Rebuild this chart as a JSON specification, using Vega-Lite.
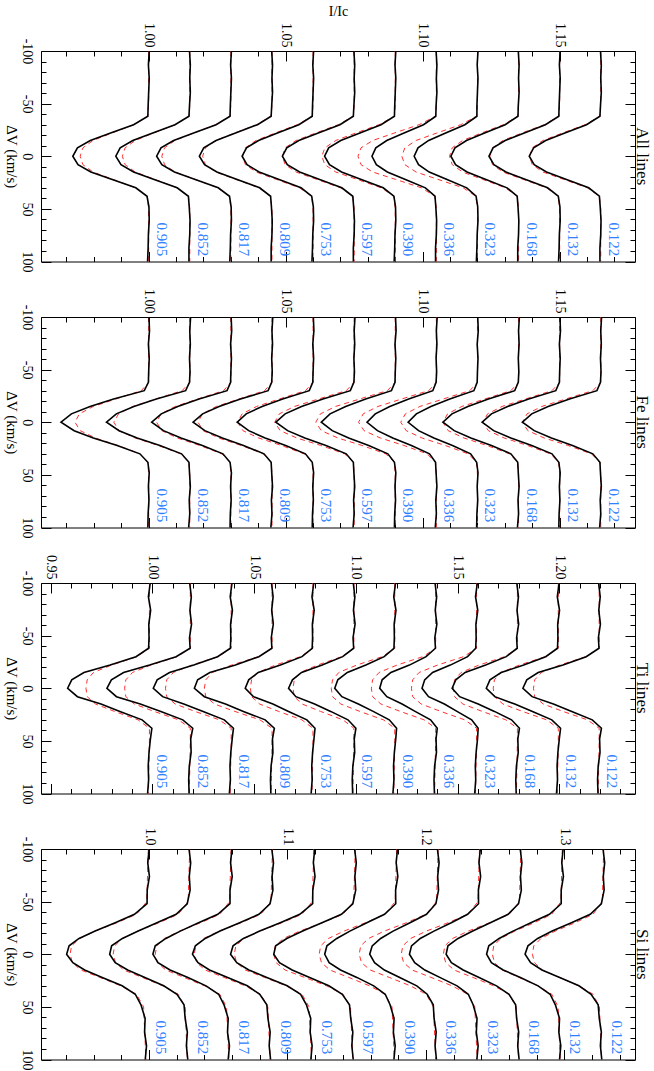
{
"$schema": "https://vega.github.io/schema/vega-lite/v6.json",
"background": "white",
"padding": {"left": 2, "top": 4, "right": 0, "bottom": 0},
"bounds": "flush",
"spacing": 55,
"config": {
  "view": {"stroke": "black", "strokeWidth": 1},
  "axis": {"domain": false, "grid": false, "tickColor": "black", "tickWidth": 1, "labelColor": "black", "labelFont": "Liberation Serif", "labelFontSize": 14, "titleFont": "Liberation Serif", "titleFontSize": 15, "titleFontWeight": "normal", "titleColor": "black", "labelOverlap": false, "labelFlush": false}
},
"datasets": {
"lab": [
{"mu":"0.905","cA":1.000,"cT":0.9985,"cS":0.9995},
{"mu":"0.852","cA":1.015,"cT":1.0186,"cS":1.0294},
{"mu":"0.817","cA":1.030,"cT":1.0387,"cS":1.0593},
{"mu":"0.809","cA":1.045,"cT":1.0588,"cS":1.0892},
{"mu":"0.753","cA":1.060,"cT":1.0789,"cS":1.1191},
{"mu":"0.597","cA":1.075,"cT":1.0990,"cS":1.1490},
{"mu":"0.390","cA":1.090,"cT":1.1191,"cS":1.1789},
{"mu":"0.336","cA":1.105,"cT":1.1392,"cS":1.2088},
{"mu":"0.323","cA":1.120,"cT":1.1593,"cS":1.2387},
{"mu":"0.168","cA":1.135,"cT":1.1794,"cS":1.2686},
{"mu":"0.132","cA":1.150,"cT":1.1995,"cS":1.2985},
{"mu":"0.122","cA":1.165,"cT":1.2196,"cS":1.3284}
],
"Ao": [
{"v":-100,"k0":1.0002,"k1":1.0149,"k2":1.0302,"k3":1.0449,"k4":1.0602,"k5":1.0749,"k6":1.0902,"k7":1.1049,"k8":1.1202,"k9":1.1349,"k10":1.1502,"k11":1.1649},
{"v":-87,"k0":0.9999,"k1":1.0152,"k2":1.0299,"k3":1.0452,"k4":1.0599,"k5":1.0752,"k6":1.0899,"k7":1.1052,"k8":1.1199,"k9":1.1352,"k10":1.1499,"k11":1.1652},
{"v":-74,"k0":1.0002,"k1":1.0150,"k2":1.0302,"k3":1.0450,"k4":1.0602,"k5":1.0750,"k6":1.0902,"k7":1.1050,"k8":1.1202,"k9":1.1350,"k10":1.1502,"k11":1.1650},
{"v":-61,"k0":1.0000,"k1":1.0152,"k2":1.0300,"k3":1.0452,"k4":1.0600,"k5":1.0752,"k6":1.0900,"k7":1.1052,"k8":1.1200,"k9":1.1352,"k10":1.1500,"k11":1.1652},
{"v":-48,"k0":0.9998,"k1":1.0149,"k2":1.0298,"k3":1.0449,"k4":1.0598,"k5":1.0749,"k6":1.0898,"k7":1.1049,"k8":1.1198,"k9":1.1349,"k10":1.1498,"k11":1.1649},
{"v":-38,"k0":0.9997,"k1":1.0147,"k2":1.0297,"k3":1.0447,"k4":1.0597,"k5":1.0747,"k6":1.0897,"k7":1.1048,"k8":1.1198,"k9":1.1348,"k10":1.1497,"k11":1.1647},
{"v":-30,"k0":0.9945,"k1":1.0096,"k2":1.0246,"k3":1.0397,"k4":1.0548,"k5":1.0698,"k6":1.0848,"k7":1.1003,"k8":1.1154,"k9":1.1301,"k10":1.1448,"k11":1.1598},
{"v":-22,"k0":0.9861,"k1":1.0015,"k2":1.0164,"k3":1.0317,"k4":1.0470,"k5":1.0619,"k6":1.0771,"k7":1.0932,"k8":1.1084,"k9":1.1226,"k10":1.1371,"k11":1.1519},
{"v":-15,"k0":0.9787,"k1":0.9942,"k2":1.0091,"k3":1.0246,"k4":1.0401,"k5":1.0548,"k6":1.0701,"k7":1.0869,"k8":1.1022,"k9":1.1160,"k10":1.1301,"k11":1.1449},
{"v":-8,"k0":0.9740,"k1":0.9896,"k2":1.0045,"k3":1.0201,"k4":1.0357,"k5":1.0504,"k6":1.0657,"k7":1.0829,"k8":1.0983,"k9":1.1118,"k10":1.1257,"k11":1.1405},
{"v":0,"k0":0.9723,"k1":0.9880,"k2":1.0029,"k3":1.0185,"k4":1.0341,"k5":1.0488,"k6":1.0642,"k7":1.0815,"k8":1.0969,"k9":1.1103,"k10":1.1242,"k11":1.1389},
{"v":8,"k0":0.9742,"k1":0.9899,"k2":1.0048,"k3":1.0204,"k4":1.0359,"k5":1.0506,"k6":1.0660,"k7":1.0831,"k8":1.0985,"k9":1.1120,"k10":1.1260,"k11":1.1407},
{"v":15,"k0":0.9789,"k1":0.9945,"k2":1.0094,"k3":1.0249,"k4":1.0403,"k5":1.0551,"k6":1.0704,"k7":1.0871,"k8":1.1024,"k9":1.1162,"k10":1.1304,"k11":1.1452},
{"v":22,"k0":0.9867,"k1":1.0020,"k2":1.0170,"k3":1.0323,"k4":1.0476,"k5":1.0624,"k6":1.0776,"k7":1.0937,"k8":1.1089,"k9":1.1231,"k10":1.1376,"k11":1.1525},
{"v":30,"k0":0.9953,"k1":1.0104,"k2":1.0254,"k3":1.0405,"k4":1.0556,"k5":1.0705,"k6":1.0856,"k7":1.1010,"k8":1.1161,"k9":1.1308,"k10":1.1456,"k11":1.1606},
{"v":38,"k0":0.9994,"k1":1.0145,"k2":1.0295,"k3":1.0445,"k4":1.0595,"k5":1.0745,"k6":1.0895,"k7":1.1045,"k8":1.1195,"k9":1.1345,"k10":1.1495,"k11":1.1645},
{"v":48,"k0":1.0001,"k1":1.0148,"k2":1.0301,"k3":1.0448,"k4":1.0601,"k5":1.0748,"k6":1.0901,"k7":1.1048,"k8":1.1201,"k9":1.1348,"k10":1.1501,"k11":1.1648},
{"v":61,"k0":1.0002,"k1":1.0151,"k2":1.0302,"k3":1.0451,"k4":1.0602,"k5":1.0751,"k6":1.0902,"k7":1.1051,"k8":1.1202,"k9":1.1351,"k10":1.1502,"k11":1.1651},
{"v":74,"k0":0.9999,"k1":1.0150,"k2":1.0299,"k3":1.0450,"k4":1.0599,"k5":1.0750,"k6":1.0899,"k7":1.1050,"k8":1.1199,"k9":1.1350,"k10":1.1499,"k11":1.1650},
{"v":87,"k0":0.9998,"k1":1.0147,"k2":1.0298,"k3":1.0447,"k4":1.0598,"k5":1.0747,"k6":1.0898,"k7":1.1047,"k8":1.1198,"k9":1.1347,"k10":1.1498,"k11":1.1647},
{"v":100,"k0":0.9996,"k1":1.0147,"k2":1.0296,"k3":1.0447,"k4":1.0596,"k5":1.0747,"k6":1.0896,"k7":1.1047,"k8":1.1196,"k9":1.1347,"k10":1.1496,"k11":1.1647}
],
"Am": [
{"v":-100,"k0":1.000,"k1":1.015,"k2":1.030,"k3":1.045,"k4":1.060,"k5":1.075,"k6":1.090,"k7":1.105,"k8":1.120,"k9":1.135,"k10":1.150,"k11":1.165},
{"v":-50,"k0":1.000,"k1":1.015,"k2":1.030,"k3":1.045,"k4":1.060,"k5":1.075,"k6":1.090,"k7":1.105,"k8":1.120,"k9":1.135,"k10":1.150,"k11":1.165},
{"v":-38,"k0":0.9997,"k1":1.0148,"k2":1.0297,"k3":1.0447,"k4":1.0597,"k5":1.0747,"k6":1.0897,"k7":1.1047,"k8":1.1197,"k9":1.1347,"k10":1.1497,"k11":1.1647},
{"v":-30,"k0":0.9945,"k1":1.0096,"k2":1.0245,"k3":1.0394,"k4":1.0543,"k5":1.0692,"k6":1.0841,"k7":1.0987,"k8":1.1139,"k9":1.1295,"k10":1.1444,"k11":1.1593},
{"v":-22,"k0":0.9865,"k1":1.0017,"k2":1.0164,"k3":1.0313,"k4":1.0461,"k5":1.0609,"k6":1.0755,"k7":1.0896,"k8":1.1051,"k9":1.1214,"k10":1.1362,"k11":1.1510},
{"v":-15,"k0":0.9797,"k1":0.9951,"k2":1.0096,"k3":1.0245,"k4":1.0392,"k5":1.0538,"k6":1.0683,"k7":1.0818,"k8":1.0976,"k9":1.1146,"k10":1.1293,"k11":1.1439},
{"v":-8,"k0":0.9760,"k1":0.9914,"k2":1.0058,"k3":1.0207,"k4":1.0353,"k5":1.0498,"k6":1.0643,"k7":1.0775,"k8":1.0935,"k9":1.1108,"k10":1.1255,"k11":1.1400},
{"v":0,"k0":0.9750,"k1":0.9904,"k2":1.0048,"k3":1.0197,"k4":1.0343,"k5":1.0488,"k6":1.0632,"k7":1.0764,"k8":1.0924,"k9":1.1098,"k10":1.1245,"k11":1.1390},
{"v":8,"k0":0.9760,"k1":0.9914,"k2":1.0058,"k3":1.0207,"k4":1.0353,"k5":1.0498,"k6":1.0643,"k7":1.0775,"k8":1.0935,"k9":1.1108,"k10":1.1255,"k11":1.1400},
{"v":15,"k0":0.9797,"k1":0.9951,"k2":1.0096,"k3":1.0245,"k4":1.0392,"k5":1.0538,"k6":1.0683,"k7":1.0818,"k8":1.0976,"k9":1.1146,"k10":1.1293,"k11":1.1439},
{"v":22,"k0":0.9870,"k1":1.0022,"k2":1.0169,"k3":1.0318,"k4":1.0466,"k5":1.0614,"k6":1.0761,"k7":1.0901,"k8":1.1056,"k9":1.1219,"k10":1.1367,"k11":1.1515},
{"v":30,"k0":0.9952,"k1":1.0103,"k2":1.0252,"k3":1.0402,"k4":1.0551,"k5":1.0700,"k6":1.0849,"k7":1.0996,"k8":1.1148,"k9":1.1302,"k10":1.1452,"k11":1.1601},
{"v":38,"k0":0.9995,"k1":1.0145,"k2":1.0295,"k3":1.0445,"k4":1.0595,"k5":1.0745,"k6":1.0895,"k7":1.1044,"k8":1.1194,"k9":1.1345,"k10":1.1495,"k11":1.1645},
{"v":50,"k0":1.000,"k1":1.015,"k2":1.030,"k3":1.045,"k4":1.060,"k5":1.075,"k6":1.090,"k7":1.105,"k8":1.120,"k9":1.135,"k10":1.150,"k11":1.165},
{"v":100,"k0":1.000,"k1":1.015,"k2":1.030,"k3":1.045,"k4":1.060,"k5":1.075,"k6":1.090,"k7":1.105,"k8":1.120,"k9":1.135,"k10":1.150,"k11":1.165}
],
"Fo": [
{"v":-100,"k0":1.0001,"k1":1.0153,"k2":1.0301,"k3":1.0453,"k4":1.0601,"k5":1.0753,"k6":1.0901,"k7":1.1053,"k8":1.1201,"k9":1.1353,"k10":1.1501,"k11":1.1653},
{"v":-87,"k0":1.0003,"k1":1.0150,"k2":1.0303,"k3":1.0450,"k4":1.0603,"k5":1.0750,"k6":1.0903,"k7":1.1050,"k8":1.1203,"k9":1.1350,"k10":1.1503,"k11":1.1650},
{"v":-74,"k0":0.9999,"k1":1.0152,"k2":1.0299,"k3":1.0452,"k4":1.0599,"k5":1.0752,"k6":1.0899,"k7":1.1052,"k8":1.1199,"k9":1.1352,"k10":1.1499,"k11":1.1652},
{"v":-61,"k0":1.0002,"k1":1.0149,"k2":1.0302,"k3":1.0449,"k4":1.0602,"k5":1.0749,"k6":1.0902,"k7":1.1049,"k8":1.1202,"k9":1.1349,"k10":1.1502,"k11":1.1649},
{"v":-48,"k0":1.0000,"k1":1.0151,"k2":1.0300,"k3":1.0451,"k4":1.0600,"k5":1.0751,"k6":1.0900,"k7":1.1051,"k8":1.1200,"k9":1.1351,"k10":1.1500,"k11":1.1651},
{"v":-38,"k0":0.9999,"k1":1.0149,"k2":1.0299,"k3":1.0449,"k4":1.0599,"k5":1.0749,"k6":1.0899,"k7":1.1049,"k8":1.1199,"k9":1.1349,"k10":1.1499,"k11":1.1649},
{"v":-30,"k0":0.9984,"k1":1.0135,"k2":1.0286,"k3":1.0436,"k4":1.0586,"k5":1.0736,"k6":1.0886,"k7":1.1037,"k8":1.1187,"k9":1.1336,"k10":1.1486,"k11":1.1636},
{"v":-22,"k0":0.9872,"k1":1.0028,"k2":1.0184,"k3":1.0335,"k4":1.0489,"k5":1.0636,"k6":1.0792,"k7":1.0949,"k8":1.1099,"k9":1.1240,"k10":1.1387,"k11":1.1536},
{"v":-15,"k0":0.9786,"k1":0.9946,"k2":1.0106,"k3":1.0257,"k4":1.0414,"k5":1.0558,"k6":1.0719,"k7":1.0880,"k8":1.1030,"k9":1.1165,"k10":1.1310,"k11":1.1458},
{"v":-8,"k0":0.9718,"k1":0.9882,"k2":1.0046,"k3":1.0197,"k4":1.0356,"k5":1.0498,"k6":1.0662,"k7":1.0827,"k8":1.0977,"k9":1.1107,"k10":1.1251,"k11":1.1398},
{"v":0,"k0":0.9680,"k1":0.9846,"k2":1.0011,"k3":1.0162,"k4":1.0323,"k5":1.0464,"k6":1.0630,"k7":1.0797,"k8":1.0947,"k9":1.1074,"k10":1.1217,"k11":1.1364},
{"v":8,"k0":0.9728,"k1":0.9892,"k2":1.0054,"k3":1.0205,"k4":1.0365,"k5":1.0507,"k6":1.0670,"k7":1.0835,"k8":1.0985,"k9":1.1115,"k10":1.1259,"k11":1.1407},
{"v":15,"k0":0.9798,"k1":0.9958,"k2":1.0118,"k3":1.0269,"k4":1.0425,"k5":1.0570,"k6":1.0730,"k7":1.0891,"k8":1.1041,"k9":1.1176,"k10":1.1322,"k11":1.1470},
{"v":22,"k0":0.9885,"k1":1.0041,"k2":1.0196,"k3":1.0346,"k4":1.0500,"k5":1.0647,"k6":1.0803,"k7":1.0959,"k8":1.1109,"k9":1.1251,"k10":1.1398,"k11":1.1547},
{"v":30,"k0":0.9968,"k1":1.0120,"k2":1.0271,"k3":1.0421,"k4":1.0572,"k5":1.0721,"k6":1.0873,"k7":1.1025,"k8":1.1175,"k9":1.1322,"k10":1.1472,"k11":1.1621},
{"v":38,"k0":0.9997,"k1":1.0147,"k2":1.0297,"k3":1.0447,"k4":1.0597,"k5":1.0747,"k6":1.0897,"k7":1.1047,"k8":1.1197,"k9":1.1347,"k10":1.1497,"k11":1.1647},
{"v":48,"k0":1.0002,"k1":1.0149,"k2":1.0302,"k3":1.0449,"k4":1.0602,"k5":1.0749,"k6":1.0902,"k7":1.1049,"k8":1.1202,"k9":1.1349,"k10":1.1502,"k11":1.1649},
{"v":61,"k0":0.9999,"k1":1.0152,"k2":1.0299,"k3":1.0452,"k4":1.0599,"k5":1.0752,"k6":1.0899,"k7":1.1052,"k8":1.1199,"k9":1.1352,"k10":1.1499,"k11":1.1652},
{"v":74,"k0":1.0001,"k1":1.0148,"k2":1.0301,"k3":1.0448,"k4":1.0601,"k5":1.0748,"k6":1.0901,"k7":1.1048,"k8":1.1201,"k9":1.1348,"k10":1.1501,"k11":1.1648},
{"v":87,"k0":0.9998,"k1":1.0150,"k2":1.0298,"k3":1.0450,"k4":1.0598,"k5":1.0750,"k6":1.0898,"k7":1.1050,"k8":1.1198,"k9":1.1350,"k10":1.1498,"k11":1.1650},
{"v":100,"k0":0.9997,"k1":1.0146,"k2":1.0297,"k3":1.0446,"k4":1.0597,"k5":1.0746,"k6":1.0897,"k7":1.1046,"k8":1.1197,"k9":1.1346,"k10":1.1497,"k11":1.1646}
],
"Fm": [
{"v":-100,"k0":1.000,"k1":1.015,"k2":1.030,"k3":1.045,"k4":1.060,"k5":1.075,"k6":1.090,"k7":1.105,"k8":1.120,"k9":1.135,"k10":1.150,"k11":1.165},
{"v":-50,"k0":1.000,"k1":1.015,"k2":1.030,"k3":1.045,"k4":1.060,"k5":1.075,"k6":1.090,"k7":1.105,"k8":1.120,"k9":1.135,"k10":1.150,"k11":1.165},
{"v":-38,"k0":1.000,"k1":1.015,"k2":1.030,"k3":1.045,"k4":1.060,"k5":1.075,"k6":1.090,"k7":1.105,"k8":1.120,"k9":1.135,"k10":1.150,"k11":1.165},
{"v":-30,"k0":0.9973,"k1":1.0122,"k2":1.0273,"k3":1.0423,"k4":1.0572,"k5":1.0721,"k6":1.0871,"k7":1.1022,"k8":1.1172,"k9":1.1322,"k10":1.1472,"k11":1.1621},
{"v":-22,"k0":0.9879,"k1":1.0025,"k2":1.0178,"k3":1.0328,"k4":1.0476,"k5":1.0619,"k6":1.0769,"k7":1.0922,"k8":1.1074,"k9":1.1226,"k10":1.1374,"k11":1.1521},
{"v":-15,"k0":0.9798,"k1":0.9942,"k2":1.0097,"k3":1.0247,"k4":1.0394,"k5":1.0532,"k6":1.0682,"k7":1.0837,"k8":1.0990,"k9":1.1143,"k10":1.1290,"k11":1.1435},
{"v":-8,"k0":0.9747,"k1":0.9890,"k2":1.0045,"k3":1.0196,"k4":1.0341,"k5":1.0477,"k6":1.0627,"k7":1.0783,"k8":1.0937,"k9":1.1091,"k10":1.1237,"k11":1.1381},
{"v":0,"k0":0.9731,"k1":0.9873,"k2":1.0029,"k3":1.0180,"k4":1.0325,"k5":1.0460,"k6":1.0610,"k7":1.0766,"k8":1.0920,"k9":1.1074,"k10":1.1220,"k11":1.1364},
{"v":8,"k0":0.9750,"k1":0.9892,"k2":1.0048,"k3":1.0199,"k4":1.0344,"k5":1.0480,"k6":1.0630,"k7":1.0786,"k8":1.0940,"k9":1.1093,"k10":1.1240,"k11":1.1384},
{"v":15,"k0":0.9806,"k1":0.9951,"k2":1.0105,"k3":1.0256,"k4":1.0402,"k5":1.0541,"k6":1.0691,"k7":1.0846,"k8":1.0998,"k9":1.1151,"k10":1.1298,"k11":1.1444},
{"v":22,"k0":0.9887,"k1":1.0034,"k2":1.0186,"k3":1.0337,"k4":1.0484,"k5":1.0628,"k6":1.0778,"k7":1.0931,"k8":1.1082,"k9":1.1234,"k10":1.1382,"k11":1.1530},
{"v":30,"k0":0.9968,"k1":1.0117,"k2":1.0267,"k3":1.0418,"k4":1.0567,"k5":1.0715,"k6":1.0865,"k7":1.1016,"k8":1.1166,"k9":1.1317,"k10":1.1466,"k11":1.1616},
{"v":38,"k0":0.9997,"k1":1.0147,"k2":1.0297,"k3":1.0447,"k4":1.0597,"k5":1.0747,"k6":1.0897,"k7":1.1047,"k8":1.1197,"k9":1.1347,"k10":1.1497,"k11":1.1647},
{"v":50,"k0":1.000,"k1":1.015,"k2":1.030,"k3":1.045,"k4":1.060,"k5":1.075,"k6":1.090,"k7":1.105,"k8":1.120,"k9":1.135,"k10":1.150,"k11":1.165},
{"v":100,"k0":1.000,"k1":1.015,"k2":1.030,"k3":1.045,"k4":1.060,"k5":1.075,"k6":1.090,"k7":1.105,"k8":1.120,"k9":1.135,"k10":1.150,"k11":1.165}
],
"To": [
{"v":-100,"k0":0.9989,"k1":1.0183,"k2":1.0391,"k3":1.0585,"k4":1.0793,"k5":1.0987,"k6":1.1195,"k7":1.1389,"k8":1.1597,"k9":1.1791,"k10":1.1999,"k11":1.2193},
{"v":-87,"k0":0.9980,"k1":1.0191,"k2":1.0382,"k3":1.0593,"k4":1.0784,"k5":1.0995,"k6":1.1186,"k7":1.1397,"k8":1.1588,"k9":1.1799,"k10":1.1990,"k11":1.2201},
{"v":-74,"k0":0.9991,"k1":1.0184,"k2":1.0393,"k3":1.0586,"k4":1.0795,"k5":1.0988,"k6":1.1197,"k7":1.1390,"k8":1.1599,"k9":1.1792,"k10":1.2001,"k11":1.2194},
{"v":-61,"k0":0.9982,"k1":1.0192,"k2":1.0384,"k3":1.0594,"k4":1.0786,"k5":1.0996,"k6":1.1188,"k7":1.1398,"k8":1.1590,"k9":1.1800,"k10":1.1992,"k11":1.2202},
{"v":-48,"k0":0.9983,"k1":1.0182,"k2":1.0385,"k3":1.0584,"k4":1.0787,"k5":1.0986,"k6":1.1189,"k7":1.1388,"k8":1.1591,"k9":1.1790,"k10":1.1993,"k11":1.2192},
{"v":-38,"k0":0.9981,"k1":1.0185,"k2":1.0383,"k3":1.0587,"k4":1.0785,"k5":1.0989,"k6":1.1187,"k7":1.1391,"k8":1.1589,"k9":1.1793,"k10":1.1991,"k11":1.2195},
{"v":-30,"k0":0.9919,"k1":1.0116,"k2":1.0320,"k3":1.0523,"k4":1.0735,"k5":1.0935,"k6":1.1139,"k7":1.1345,"k8":1.1549,"k9":1.1739,"k10":1.1933,"k11":1.2132},
{"v":-22,"k0":0.9792,"k1":0.9986,"k2":1.0203,"k3":1.0408,"k4":1.0629,"k5":1.0834,"k6":1.1049,"k7":1.1263,"k8":1.1464,"k9":1.1638,"k10":1.1825,"k11":1.2018},
{"v":-15,"k0":0.9663,"k1":0.9858,"k2":1.0084,"k3":1.0282,"k4":1.0520,"k5":1.0733,"k6":1.0958,"k7":1.1172,"k8":1.1377,"k9":1.1537,"k10":1.1714,"k11":1.1896},
{"v":-8,"k0":0.9603,"k1":0.9798,"k2":1.0023,"k3":1.0222,"k4":1.0473,"k5":1.0688,"k6":1.0911,"k7":1.1129,"k8":1.1338,"k9":1.1491,"k10":1.1659,"k11":1.1840},
{"v":0,"k0":0.9583,"k1":0.9776,"k2":1.0004,"k3":1.0206,"k4":1.0456,"k5":1.0669,"k6":1.0896,"k7":1.1117,"k8":1.1325,"k9":1.1473,"k10":1.1641,"k11":1.1821},
{"v":8,"k0":0.9631,"k1":0.9823,"k2":1.0050,"k3":1.0255,"k4":1.0496,"k5":1.0705,"k6":1.0931,"k7":1.1152,"k8":1.1357,"k9":1.1510,"k10":1.1683,"k11":1.1866},
{"v":15,"k0":0.9747,"k1":0.9940,"k2":1.0154,"k3":1.0359,"k4":1.0592,"k5":1.0797,"k6":1.1012,"k7":1.1227,"k8":1.1435,"k9":1.1601,"k10":1.1781,"k11":1.1971},
{"v":22,"k0":0.9840,"k1":1.0041,"k2":1.0249,"k3":1.0447,"k4":1.0669,"k5":1.0876,"k6":1.1085,"k7":1.1291,"k8":1.1497,"k9":1.1681,"k10":1.1868,"k11":1.2061},
{"v":30,"k0":0.9949,"k1":1.0149,"k2":1.0353,"k3":1.0554,"k4":1.0759,"k5":1.0961,"k6":1.1164,"k7":1.1367,"k8":1.1569,"k9":1.1765,"k10":1.1963,"k11":1.2162},
{"v":38,"k0":0.9997,"k1":1.0198,"k2":1.0398,"k3":1.0599,"k4":1.0799,"k5":1.1000,"k6":1.1200,"k7":1.1400,"k8":1.1601,"k9":1.1804,"k10":1.2006,"k11":1.2207},
{"v":48,"k0":0.9990,"k1":1.0188,"k2":1.0392,"k3":1.0590,"k4":1.0794,"k5":1.0992,"k6":1.1196,"k7":1.1394,"k8":1.1598,"k9":1.1796,"k10":1.2000,"k11":1.2198},
{"v":61,"k0":0.9983,"k1":1.0190,"k2":1.0385,"k3":1.0592,"k4":1.0787,"k5":1.0994,"k6":1.1189,"k7":1.1396,"k8":1.1591,"k9":1.1798,"k10":1.1993,"k11":1.2200},
{"v":74,"k0":0.9979,"k1":1.0181,"k2":1.0381,"k3":1.0583,"k4":1.0783,"k5":1.0985,"k6":1.1185,"k7":1.1387,"k8":1.1587,"k9":1.1789,"k10":1.1989,"k11":1.2191},
{"v":87,"k0":0.9981,"k1":1.0178,"k2":1.0383,"k3":1.0580,"k4":1.0785,"k5":1.0982,"k6":1.1187,"k7":1.1384,"k8":1.1589,"k9":1.1786,"k10":1.1991,"k11":1.2188},
{"v":100,"k0":0.9976,"k1":1.0180,"k2":1.0378,"k3":1.0582,"k4":1.0780,"k5":1.0984,"k6":1.1182,"k7":1.1386,"k8":1.1584,"k9":1.1788,"k10":1.1986,"k11":1.2190}
],
"Tm": [
{"v":-100,"k0":0.9985,"k1":1.0186,"k2":1.0387,"k3":1.0588,"k4":1.0789,"k5":1.0990,"k6":1.1191,"k7":1.1392,"k8":1.1593,"k9":1.1794,"k10":1.1995,"k11":1.2196},
{"v":-50,"k0":0.9985,"k1":1.0186,"k2":1.0387,"k3":1.0588,"k4":1.0789,"k5":1.0990,"k6":1.1191,"k7":1.1392,"k8":1.1593,"k9":1.1794,"k10":1.1995,"k11":1.2196},
{"v":-38,"k0":0.9985,"k1":1.0186,"k2":1.0387,"k3":1.0588,"k4":1.0789,"k5":1.0990,"k6":1.1191,"k7":1.1392,"k8":1.1593,"k9":1.1794,"k10":1.1995,"k11":1.2196},
{"v":-30,"k0":0.9923,"k1":1.0121,"k2":1.0322,"k3":1.0521,"k4":1.0727,"k5":1.0930,"k6":1.1129,"k7":1.1329,"k8":1.1529,"k9":1.1731,"k10":1.1931,"k11":1.2131},
{"v":-22,"k0":0.9798,"k1":0.9992,"k2":1.0193,"k3":1.0388,"k4":1.0604,"k5":1.0811,"k6":1.1004,"k7":1.1202,"k8":1.1401,"k9":1.1605,"k10":1.1803,"k11":1.2002},
{"v":-15,"k0":0.9710,"k1":0.9902,"k2":1.0103,"k3":1.0295,"k4":1.0518,"k5":1.0727,"k6":1.0916,"k7":1.1114,"k8":1.1311,"k9":1.1517,"k10":1.1713,"k11":1.1912},
{"v":-8,"k0":0.9679,"k1":0.9869,"k2":1.0070,"k3":1.0262,"k4":1.0487,"k5":1.0697,"k6":1.0885,"k7":1.1082,"k8":1.1279,"k9":1.1485,"k10":1.1681,"k11":1.1879},
{"v":0,"k0":0.9673,"k1":0.9863,"k2":1.0064,"k3":1.0255,"k4":1.0481,"k5":1.0691,"k6":1.0879,"k7":1.1076,"k8":1.1273,"k9":1.1479,"k10":1.1675,"k11":1.1873},
{"v":8,"k0":0.9679,"k1":0.9869,"k2":1.0070,"k3":1.0262,"k4":1.0487,"k5":1.0697,"k6":1.0885,"k7":1.1082,"k8":1.1279,"k9":1.1485,"k10":1.1681,"k11":1.1879},
{"v":15,"k0":0.9720,"k1":0.9911,"k2":1.0112,"k3":1.0305,"k4":1.0527,"k5":1.0736,"k6":1.0926,"k7":1.1123,"k8":1.1321,"k9":1.1526,"k10":1.1723,"k11":1.1921},
{"v":22,"k0":0.9813,"k1":1.0008,"k2":1.0209,"k3":1.0405,"k4":1.0620,"k5":1.0826,"k6":1.1019,"k7":1.1218,"k8":1.1417,"k9":1.1621,"k10":1.1819,"k11":1.2018},
{"v":30,"k0":0.9929,"k1":1.0128,"k2":1.0329,"k3":1.0528,"k4":1.0734,"k5":1.0936,"k6":1.1135,"k7":1.1335,"k8":1.1535,"k9":1.1737,"k10":1.1937,"k11":1.2138},
{"v":38,"k0":0.9985,"k1":1.0186,"k2":1.0387,"k3":1.0588,"k4":1.0789,"k5":1.0990,"k6":1.1191,"k7":1.1392,"k8":1.1593,"k9":1.1794,"k10":1.1995,"k11":1.2196},
{"v":50,"k0":0.9985,"k1":1.0186,"k2":1.0387,"k3":1.0588,"k4":1.0789,"k5":1.0990,"k6":1.1191,"k7":1.1392,"k8":1.1593,"k9":1.1794,"k10":1.1995,"k11":1.2196},
{"v":100,"k0":0.9980,"k1":1.0181,"k2":1.0382,"k3":1.0583,"k4":1.0784,"k5":1.0985,"k6":1.1186,"k7":1.1387,"k8":1.1588,"k9":1.1789,"k10":1.1990,"k11":1.2191}
],
"So": [
{"v":-100,"k0":1.0001,"k1":1.0289,"k2":1.0599,"k3":1.0887,"k4":1.1197,"k5":1.1485,"k6":1.1795,"k7":1.2083,"k8":1.2393,"k9":1.2681,"k10":1.2991,"k11":1.3279},
{"v":-87,"k0":0.9991,"k1":1.0301,"k2":1.0589,"k3":1.0899,"k4":1.1187,"k5":1.1497,"k6":1.1785,"k7":1.2095,"k8":1.2383,"k9":1.2693,"k10":1.2981,"k11":1.3291},
{"v":-74,"k0":1.0003,"k1":1.0291,"k2":1.0601,"k3":1.0889,"k4":1.1199,"k5":1.1487,"k6":1.1797,"k7":1.2085,"k8":1.2395,"k9":1.2683,"k10":1.2993,"k11":1.3281},
{"v":-61,"k0":0.9987,"k1":1.0297,"k2":1.0585,"k3":1.0895,"k4":1.1183,"k5":1.1493,"k6":1.1781,"k7":1.2091,"k8":1.2379,"k9":1.2689,"k10":1.2977,"k11":1.3287},
{"v":-48,"k0":0.9986,"k1":1.0276,"k2":1.0585,"k3":1.0874,"k4":1.1182,"k5":1.1472,"k6":1.1782,"k7":1.2072,"k8":1.2380,"k9":1.2669,"k10":1.2977,"k11":1.3267},
{"v":-38,"k0":0.9895,"k1":1.0196,"k2":1.0497,"k3":1.0794,"k4":1.1089,"k5":1.1390,"k6":1.1701,"k7":1.2004,"k8":1.2301,"k9":1.2594,"k10":1.2892,"k11":1.3187},
{"v":-30,"k0":0.9756,"k1":1.0057,"k2":1.0358,"k3":1.0655,"k4":1.0948,"k5":1.1249,"k6":1.1573,"k7":1.1885,"k8":1.2183,"k9":1.2465,"k10":1.2758,"k11":1.3051},
{"v":-22,"k0":0.9611,"k1":0.9922,"k2":1.0226,"k3":1.0513,"k4":1.0800,"k5":1.1110,"k6":1.1451,"k7":1.1763,"k8":1.2058,"k9":1.2338,"k10":1.2629,"k11":1.2912},
{"v":-15,"k0":0.9495,"k1":0.9808,"k2":1.0122,"k3":1.0406,"k4":1.0682,"k5":1.0995,"k6":1.1356,"k7":1.1673,"k8":1.1959,"k9":1.2232,"k10":1.2529,"k11":1.2807},
{"v":-8,"k0":0.9423,"k1":0.9730,"k2":1.0045,"k3":1.0335,"k4":1.0607,"k5":1.0915,"k6":1.1285,"k7":1.1612,"k8":1.1896,"k9":1.2159,"k10":1.2454,"k11":1.2737},
{"v":0,"k0":0.9405,"k1":0.9716,"k2":1.0028,"k3":1.0314,"k4":1.0589,"k5":1.0901,"k6":1.1269,"k7":1.1594,"k8":1.1881,"k9":1.2146,"k10":1.2438,"k11":1.2716},
{"v":8,"k0":0.9450,"k1":0.9756,"k2":1.0065,"k3":1.0354,"k4":1.0634,"k5":1.0942,"k6":1.1301,"k7":1.1629,"k8":1.1919,"k9":1.2184,"k10":1.2473,"k11":1.2756},
{"v":15,"k0":0.9535,"k1":0.9846,"k2":1.0152,"k3":1.0437,"k4":1.0721,"k5":1.1034,"k6":1.1383,"k7":1.1700,"k8":1.1992,"k9":1.2269,"k10":1.2558,"k11":1.2838},
{"v":22,"k0":0.9662,"k1":0.9970,"k2":1.0281,"k3":1.0568,"k4":1.0851,"k5":1.1160,"k6":1.1501,"k7":1.1811,"k8":1.2100,"k9":1.2384,"k10":1.2682,"k11":1.2966},
{"v":30,"k0":0.9806,"k1":1.0106,"k2":1.0412,"k3":1.0710,"k4":1.0998,"k5":1.1299,"k6":1.1623,"k7":1.1934,"k8":1.2225,"k9":1.2510,"k10":1.2810,"k11":1.3105},
{"v":38,"k0":0.9901,"k1":1.0202,"k2":1.0503,"k3":1.0800,"k4":1.1095,"k5":1.1396,"k6":1.1706,"k7":1.2009,"k8":1.2306,"k9":1.2600,"k10":1.2897,"k11":1.3193},
{"v":48,"k0":0.9942,"k1":1.0253,"k2":1.0542,"k3":1.0851,"k4":1.1137,"k5":1.1448,"k6":1.1741,"k7":1.2053,"k8":1.2341,"k9":1.2648,"k10":1.2935,"k11":1.3244},
{"v":61,"k0":0.9972,"k1":1.0261,"k2":1.0572,"k3":1.0859,"k4":1.1168,"k5":1.1457,"k6":1.1770,"k7":1.2059,"k8":1.2369,"k9":1.2655,"k10":1.2965,"k11":1.3252},
{"v":74,"k0":0.9968,"k1":1.0277,"k2":1.0567,"k3":1.0875,"k4":1.1164,"k5":1.1472,"k6":1.1765,"k7":1.2074,"k8":1.2364,"k9":1.2670,"k10":1.2960,"k11":1.3267},
{"v":87,"k0":0.9982,"k1":1.0270,"k2":1.0581,"k3":1.0868,"k4":1.1178,"k5":1.1465,"k6":1.1778,"k7":1.2066,"k8":1.2377,"k9":1.2663,"k10":1.2974,"k11":1.3260},
{"v":100,"k0":0.9973,"k1":1.0280,"k2":1.0572,"k3":1.0878,"k4":1.1169,"k5":1.1475,"k6":1.1769,"k7":1.2076,"k8":1.2368,"k9":1.2673,"k10":1.2965,"k11":1.3270}
],
"Sm": [
{"v":-100,"k0":0.9995,"k1":1.0294,"k2":1.0593,"k3":1.0892,"k4":1.1191,"k5":1.1490,"k6":1.1789,"k7":1.2088,"k8":1.2387,"k9":1.2686,"k10":1.2985,"k11":1.3284},
{"v":-50,"k0":0.9984,"k1":1.0283,"k2":1.0582,"k3":1.0881,"k4":1.1179,"k5":1.1478,"k6":1.1778,"k7":1.2077,"k8":1.2376,"k9":1.2675,"k10":1.2975,"k11":1.3274},
{"v":-38,"k0":0.9910,"k1":1.0211,"k2":1.0511,"k3":1.0807,"k4":1.1105,"k5":1.1401,"k6":1.1705,"k7":1.2002,"k8":1.2302,"k9":1.2602,"k10":1.2909,"k11":1.3207},
{"v":-30,"k0":0.9769,"k1":1.0073,"k2":1.0374,"k3":1.0666,"k4":1.0961,"k5":1.1254,"k6":1.1565,"k7":1.1860,"k8":1.2161,"k9":1.2462,"k10":1.2783,"k11":1.3078},
{"v":-22,"k0":0.9611,"k1":0.9918,"k2":1.0220,"k3":1.0508,"k4":1.0800,"k5":1.1089,"k6":1.1408,"k7":1.1700,"k8":1.2003,"k9":1.2305,"k10":1.2642,"k11":1.2934},
{"v":-15,"k0":0.9498,"k1":0.9807,"k2":1.0111,"k3":1.0395,"k4":1.0685,"k5":1.0971,"k6":1.1296,"k7":1.1586,"k8":1.1890,"k9":1.2193,"k10":1.2541,"k11":1.2831},
{"v":-8,"k0":0.9441,"k1":0.9752,"k2":1.0056,"k3":1.0338,"k4":1.0627,"k5":1.0912,"k6":1.1240,"k7":1.1529,"k8":1.1833,"k9":1.2137,"k10":1.2490,"k11":1.2779},
{"v":0,"k0":0.9430,"k1":0.9741,"k2":1.0045,"k3":1.0327,"k4":1.0616,"k5":1.0900,"k6":1.1229,"k7":1.1518,"k8":1.1822,"k9":1.2126,"k10":1.2480,"k11":1.2769},
{"v":8,"k0":0.9447,"k1":0.9758,"k2":1.0061,"k3":1.0344,"k4":1.0633,"k5":1.0918,"k6":1.1246,"k7":1.1535,"k8":1.1839,"k9":1.2143,"k10":1.2495,"k11":1.2784},
{"v":15,"k0":0.9509,"k1":0.9818,"k2":1.0122,"k3":1.0406,"k4":1.0696,"k5":1.0983,"k6":1.1307,"k7":1.1598,"k8":1.1901,"k9":1.2204,"k10":1.2551,"k11":1.2841},
{"v":22,"k0":0.9645,"k1":0.9951,"k2":1.0253,"k3":1.0542,"k4":1.0834,"k5":1.1124,"k6":1.1442,"k7":1.1735,"k8":1.2037,"k9":1.2339,"k10":1.2672,"k11":1.2965},
{"v":30,"k0":0.9797,"k1":1.0100,"k2":1.0401,"k3":1.0694,"k4":1.0990,"k5":1.1283,"k6":1.1593,"k7":1.1888,"k8":1.2189,"k9":1.2490,"k10":1.2808,"k11":1.3104},
{"v":38,"k0":0.9910,"k1":1.0211,"k2":1.0511,"k3":1.0807,"k4":1.1105,"k5":1.1401,"k6":1.1705,"k7":1.2002,"k8":1.2302,"k9":1.2602,"k10":1.2909,"k11":1.3207},
{"v":50,"k0":0.9961,"k1":1.0261,"k2":1.0560,"k3":1.0858,"k4":1.1156,"k5":1.1455,"k6":1.1755,"k7":1.2054,"k8":1.2353,"k9":1.2652,"k10":1.2955,"k11":1.3253},
{"v":100,"k0":0.9978,"k1":1.0277,"k2":1.0577,"k3":1.0875,"k4":1.1174,"k5":1.1472,"k6":1.1772,"k7":1.2071,"k8":1.2370,"k9":1.2669,"k10":1.2970,"k11":1.3269}
]
},
"vconcat": [
{
 "width": 594, "height": 210.5,
 "title": {"text": "All lines", "orient": "right", "anchor": "middle", "baseline": "alphabetic", "offset": -16, "fontSize": 17, "font": "Liberation Serif", "fontWeight": "normal", "color": "black"},
 "resolve": {"axis": {"x": "independent", "y": "independent"}},
 "layer": [
  {"data": {"name": "Am"}, "transform": [{"fold": ["k0","k1","k2","k3","k4","k5","k6","k7","k8","k9","k10","k11"], "as": ["key","val"]}],
   "mark": {"type": "line", "color": "#ff3030", "strokeWidth": 1, "strokeDash": [5,4]},
   "encoding": {
    "x": {"field": "val", "type": "quantitative", "scale": {"domain": [0.9607, 1.1775], "nice": false, "zero": false},
      "axis": {"orient": "bottom", "values": [0.97,0.98,0.99,1.0,1.01,1.02,1.03,1.04,1.05,1.06,1.07,1.08,1.09,1.1,1.11,1.12,1.13,1.14,1.15,1.16,1.17], "labels": false, "title": null, "tickSize": {"condition": {"test": "round(datum.value*100) % 5 === 0", "value": -10}, "value": -5}}},
    "y": {"field": "v", "type": "quantitative", "scale": {"domain": [-100, 100], "reverse": true, "nice": false, "zero": false},
      "axis": {"orient": "right", "values": [-100,-90,-80,-70,-60,-50,-40,-30,-20,-10,0,10,20,30,40,50,60,70,80,90,100], "labels": false, "title": null, "tickSize": {"condition": {"test": "datum.value % 50 === 0", "value": -10}, "value": -5}}},
    "detail": {"field": "key", "type": "nominal"},
    "order": {"field": "v", "type": "quantitative"}}},
  {"data": {"name": "Ao"}, "transform": [{"fold": ["k0","k1","k2","k3","k4","k5","k6","k7","k8","k9","k10","k11"], "as": ["key","val"]}],
   "mark": {"type": "line", "color": "black", "strokeWidth": 1.6},
   "encoding": {
    "x": {"field": "val", "type": "quantitative", "scale": {"domain": [0.9607, 1.1775], "nice": false, "zero": false},
      "axis": {"orient": "top", "values": [0.97,0.98,0.99,1.0,1.01,1.02,1.03,1.04,1.05,1.06,1.07,1.08,1.09,1.1,1.11,1.12,1.13,1.14,1.15,1.16,1.17], "format": ".2f", "labelExpr": "round(datum.value*100) % 5 === 0 ? datum.label : ''", "tickSize": {"condition": {"test": "round(datum.value*100) % 5 === 0", "value": -10}, "value": -5}, "labelAngle": 90, "labelAlign": "right", "labelBaseline": "middle", "labelPadding": 14, "title": "I/Ic", "titleAngle": 0, "titleBaseline": "alphabetic", "titlePadding": 7, "titleFontSize": 14}},
    "y": {"field": "v", "type": "quantitative", "scale": {"domain": [-100, 100], "reverse": true, "nice": false, "zero": false},
      "axis": {"orient": "left", "values": [-100,-90,-80,-70,-60,-50,-40,-30,-20,-10,0,10,20,30,40,50,60,70,80,90,100], "labelExpr": "datum.value % 50 === 0 ? toString(datum.value) : ''", "tickSize": {"condition": {"test": "datum.value % 50 === 0", "value": -10}, "value": -5}, "labelAngle": 90, "labelAlign": "center", "labelBaseline": "top", "labelPadding": 17.5, "title": "ΔV (km/s)", "titleAngle": 90, "titleBaseline": "top", "titlePadding": -4}},
    "detail": {"field": "key", "type": "nominal"},
    "order": {"field": "v", "type": "quantitative"}}},
  {"data": {"name": "lab"},
   "mark": {"type": "text", "angle": 90, "align": "left", "baseline": "alphabetic", "dy": -8, "color": "#2f80ff", "font": "Liberation Serif", "fontSize": 15},
   "encoding": {
    "x": {"field": "cA", "type": "quantitative", "scale": {"domain": [0.9607, 1.1775], "nice": false, "zero": false}, "axis": null},
    "y": {"datum": 63, "type": "quantitative", "axis": null},
    "text": {"field": "mu", "type": "nominal"}}}
 ]
},
{
 "width": 594, "height": 210.5,
 "title": {"text": "Fe lines", "orient": "right", "anchor": "middle", "baseline": "alphabetic", "offset": -16, "fontSize": 17, "font": "Liberation Serif", "fontWeight": "normal", "color": "black"},
 "resolve": {"axis": {"x": "independent", "y": "independent"}},
 "layer": [
  {"data": {"name": "Fm"}, "transform": [{"fold": ["k0","k1","k2","k3","k4","k5","k6","k7","k8","k9","k10","k11"], "as": ["key","val"]}],
   "mark": {"type": "line", "color": "#ff3030", "strokeWidth": 1, "strokeDash": [5,4]},
   "encoding": {
    "x": {"field": "val", "type": "quantitative", "scale": {"domain": [0.9607, 1.1775], "nice": false, "zero": false},
      "axis": {"orient": "bottom", "values": [0.97,0.98,0.99,1.0,1.01,1.02,1.03,1.04,1.05,1.06,1.07,1.08,1.09,1.1,1.11,1.12,1.13,1.14,1.15,1.16,1.17], "labels": false, "title": null, "tickSize": {"condition": {"test": "round(datum.value*100) % 5 === 0", "value": -10}, "value": -5}}},
    "y": {"field": "v", "type": "quantitative", "scale": {"domain": [-100, 100], "reverse": true, "nice": false, "zero": false},
      "axis": {"orient": "right", "values": [-100,-90,-80,-70,-60,-50,-40,-30,-20,-10,0,10,20,30,40,50,60,70,80,90,100], "labels": false, "title": null, "tickSize": {"condition": {"test": "datum.value % 50 === 0", "value": -10}, "value": -5}}},
    "detail": {"field": "key", "type": "nominal"},
    "order": {"field": "v", "type": "quantitative"}}},
  {"data": {"name": "Fo"}, "transform": [{"fold": ["k0","k1","k2","k3","k4","k5","k6","k7","k8","k9","k10","k11"], "as": ["key","val"]}],
   "mark": {"type": "line", "color": "black", "strokeWidth": 1.6},
   "encoding": {
    "x": {"field": "val", "type": "quantitative", "scale": {"domain": [0.9607, 1.1775], "nice": false, "zero": false},
      "axis": {"orient": "top", "values": [0.97,0.98,0.99,1.0,1.01,1.02,1.03,1.04,1.05,1.06,1.07,1.08,1.09,1.1,1.11,1.12,1.13,1.14,1.15,1.16,1.17], "format": ".2f", "labelExpr": "round(datum.value*100) % 5 === 0 ? datum.label : ''", "tickSize": {"condition": {"test": "round(datum.value*100) % 5 === 0", "value": -10}, "value": -5}, "labelAngle": 90, "labelAlign": "right", "labelBaseline": "middle", "labelPadding": 14, "title": null}},
    "y": {"field": "v", "type": "quantitative", "scale": {"domain": [-100, 100], "reverse": true, "nice": false, "zero": false},
      "axis": {"orient": "left", "values": [-100,-90,-80,-70,-60,-50,-40,-30,-20,-10,0,10,20,30,40,50,60,70,80,90,100], "labelExpr": "datum.value % 50 === 0 ? toString(datum.value) : ''", "tickSize": {"condition": {"test": "datum.value % 50 === 0", "value": -10}, "value": -5}, "labelAngle": 90, "labelAlign": "center", "labelBaseline": "top", "labelPadding": 17.5, "title": "ΔV (km/s)", "titleAngle": 90, "titleBaseline": "top", "titlePadding": -4}},
    "detail": {"field": "key", "type": "nominal"},
    "order": {"field": "v", "type": "quantitative"}}},
  {"data": {"name": "lab"},
   "mark": {"type": "text", "angle": 90, "align": "left", "baseline": "alphabetic", "dy": -8, "color": "#2f80ff", "font": "Liberation Serif", "fontSize": 15},
   "encoding": {
    "x": {"field": "cA", "type": "quantitative", "scale": {"domain": [0.9607, 1.1775], "nice": false, "zero": false}, "axis": null},
    "y": {"datum": 63, "type": "quantitative", "axis": null},
    "text": {"field": "mu", "type": "nominal"}}}
 ]
},
{
 "width": 594, "height": 210.5,
 "title": {"text": "Ti lines", "orient": "right", "anchor": "middle", "baseline": "alphabetic", "offset": -16, "fontSize": 17, "font": "Liberation Serif", "fontWeight": "normal", "color": "black"},
 "resolve": {"axis": {"x": "independent", "y": "independent"}},
 "layer": [
  {"data": {"name": "Tm"}, "transform": [{"fold": ["k0","k1","k2","k3","k4","k5","k6","k7","k8","k9","k10","k11"], "as": ["key","val"]}],
   "mark": {"type": "line", "color": "#ff3030", "strokeWidth": 1, "strokeDash": [5,4]},
   "encoding": {
    "x": {"field": "val", "type": "quantitative", "scale": {"domain": [0.9452, 1.2372], "nice": false, "zero": false},
      "axis": {"orient": "bottom", "values": [0.95,0.96,0.97,0.98,0.99,1.0,1.01,1.02,1.03,1.04,1.05,1.06,1.07,1.08,1.09,1.1,1.11,1.12,1.13,1.14,1.15,1.16,1.17,1.18,1.19,1.2,1.21,1.22,1.23], "labels": false, "title": null, "tickSize": {"condition": {"test": "round(datum.value*100) % 5 === 0", "value": -10}, "value": -5}}},
    "y": {"field": "v", "type": "quantitative", "scale": {"domain": [-100, 100], "reverse": true, "nice": false, "zero": false},
      "axis": {"orient": "right", "values": [-100,-90,-80,-70,-60,-50,-40,-30,-20,-10,0,10,20,30,40,50,60,70,80,90,100], "labels": false, "title": null, "tickSize": {"condition": {"test": "datum.value % 50 === 0", "value": -10}, "value": -5}}},
    "detail": {"field": "key", "type": "nominal"},
    "order": {"field": "v", "type": "quantitative"}}},
  {"data": {"name": "To"}, "transform": [{"fold": ["k0","k1","k2","k3","k4","k5","k6","k7","k8","k9","k10","k11"], "as": ["key","val"]}],
   "mark": {"type": "line", "color": "black", "strokeWidth": 1.6},
   "encoding": {
    "x": {"field": "val", "type": "quantitative", "scale": {"domain": [0.9452, 1.2372], "nice": false, "zero": false},
      "axis": {"orient": "top", "values": [0.95,0.96,0.97,0.98,0.99,1.0,1.01,1.02,1.03,1.04,1.05,1.06,1.07,1.08,1.09,1.1,1.11,1.12,1.13,1.14,1.15,1.16,1.17,1.18,1.19,1.2,1.21,1.22,1.23], "format": ".2f", "labelExpr": "round(datum.value*100) % 5 === 0 ? datum.label : ''", "tickSize": {"condition": {"test": "round(datum.value*100) % 5 === 0", "value": -10}, "value": -5}, "labelAngle": 90, "labelAlign": "right", "labelBaseline": "middle", "labelPadding": 14, "title": null}},
    "y": {"field": "v", "type": "quantitative", "scale": {"domain": [-100, 100], "reverse": true, "nice": false, "zero": false},
      "axis": {"orient": "left", "values": [-100,-90,-80,-70,-60,-50,-40,-30,-20,-10,0,10,20,30,40,50,60,70,80,90,100], "labelExpr": "datum.value % 50 === 0 ? toString(datum.value) : ''", "tickSize": {"condition": {"test": "datum.value % 50 === 0", "value": -10}, "value": -5}, "labelAngle": 90, "labelAlign": "center", "labelBaseline": "top", "labelPadding": 17.5, "title": "ΔV (km/s)", "titleAngle": 90, "titleBaseline": "top", "titlePadding": -4}},
    "detail": {"field": "key", "type": "nominal"},
    "order": {"field": "v", "type": "quantitative"}}},
  {"data": {"name": "lab"},
   "mark": {"type": "text", "angle": 90, "align": "left", "baseline": "alphabetic", "dy": -8, "color": "#2f80ff", "font": "Liberation Serif", "fontSize": 15},
   "encoding": {
    "x": {"field": "cT", "type": "quantitative", "scale": {"domain": [0.9452, 1.2372], "nice": false, "zero": false}, "axis": null},
    "y": {"datum": 63, "type": "quantitative", "axis": null},
    "text": {"field": "mu", "type": "nominal"}}}
 ]
},
{
 "width": 594, "height": 210.5,
 "title": {"text": "Si lines", "orient": "right", "anchor": "middle", "baseline": "alphabetic", "offset": -16, "fontSize": 17, "font": "Liberation Serif", "fontWeight": "normal", "color": "black"},
 "resolve": {"axis": {"x": "independent", "y": "independent"}},
 "layer": [
  {"data": {"name": "Sm"}, "transform": [{"fold": ["k0","k1","k2","k3","k4","k5","k6","k7","k8","k9","k10","k11"], "as": ["key","val"]}],
   "mark": {"type": "line", "color": "#ff3030", "strokeWidth": 1, "strokeDash": [5,4]},
   "encoding": {
    "x": {"field": "val", "type": "quantitative", "scale": {"domain": [0.922, 1.351], "nice": false, "zero": false},
      "axis": {"orient": "bottom", "values": [0.94,0.96,0.98,1.0,1.02,1.04,1.06,1.08,1.1,1.12,1.14,1.16,1.18,1.2,1.22,1.24,1.26,1.28,1.3,1.32,1.34], "labels": false, "title": null, "tickSize": {"condition": {"test": "round(datum.value*100) % 10 === 0", "value": -10}, "value": -5}}},
    "y": {"field": "v", "type": "quantitative", "scale": {"domain": [-100, 100], "reverse": true, "nice": false, "zero": false},
      "axis": {"orient": "right", "values": [-100,-90,-80,-70,-60,-50,-40,-30,-20,-10,0,10,20,30,40,50,60,70,80,90,100], "labels": false, "title": null, "tickSize": {"condition": {"test": "datum.value % 50 === 0", "value": -10}, "value": -5}}},
    "detail": {"field": "key", "type": "nominal"},
    "order": {"field": "v", "type": "quantitative"}}},
  {"data": {"name": "So"}, "transform": [{"fold": ["k0","k1","k2","k3","k4","k5","k6","k7","k8","k9","k10","k11"], "as": ["key","val"]}],
   "mark": {"type": "line", "color": "black", "strokeWidth": 1.6},
   "encoding": {
    "x": {"field": "val", "type": "quantitative", "scale": {"domain": [0.922, 1.351], "nice": false, "zero": false},
      "axis": {"orient": "top", "values": [0.94,0.96,0.98,1.0,1.02,1.04,1.06,1.08,1.1,1.12,1.14,1.16,1.18,1.2,1.22,1.24,1.26,1.28,1.3,1.32,1.34], "format": ".1f", "labelExpr": "round(datum.value*100) % 10 === 0 ? datum.label : ''", "tickSize": {"condition": {"test": "round(datum.value*100) % 10 === 0", "value": -10}, "value": -5}, "labelAngle": 90, "labelAlign": "right", "labelBaseline": "middle", "labelPadding": 14, "title": null}},
    "y": {"field": "v", "type": "quantitative", "scale": {"domain": [-100, 100], "reverse": true, "nice": false, "zero": false},
      "axis": {"orient": "left", "values": [-100,-90,-80,-70,-60,-50,-40,-30,-20,-10,0,10,20,30,40,50,60,70,80,90,100], "labelExpr": "datum.value % 50 === 0 ? toString(datum.value) : ''", "tickSize": {"condition": {"test": "datum.value % 50 === 0", "value": -10}, "value": -5}, "labelAngle": 90, "labelAlign": "center", "labelBaseline": "top", "labelPadding": 17.5, "title": "ΔV (km/s)", "titleAngle": 90, "titleBaseline": "top", "titlePadding": -4}},
    "detail": {"field": "key", "type": "nominal"},
    "order": {"field": "v", "type": "quantitative"}}},
  {"data": {"name": "lab"},
   "mark": {"type": "text", "angle": 90, "align": "left", "baseline": "alphabetic", "dy": -8, "color": "#2f80ff", "font": "Liberation Serif", "fontSize": 15},
   "encoding": {
    "x": {"field": "cS", "type": "quantitative", "scale": {"domain": [0.922, 1.351], "nice": false, "zero": false}, "axis": null},
    "y": {"datum": 63, "type": "quantitative", "axis": null},
    "text": {"field": "mu", "type": "nominal"}}}
 ]
}
]
}
